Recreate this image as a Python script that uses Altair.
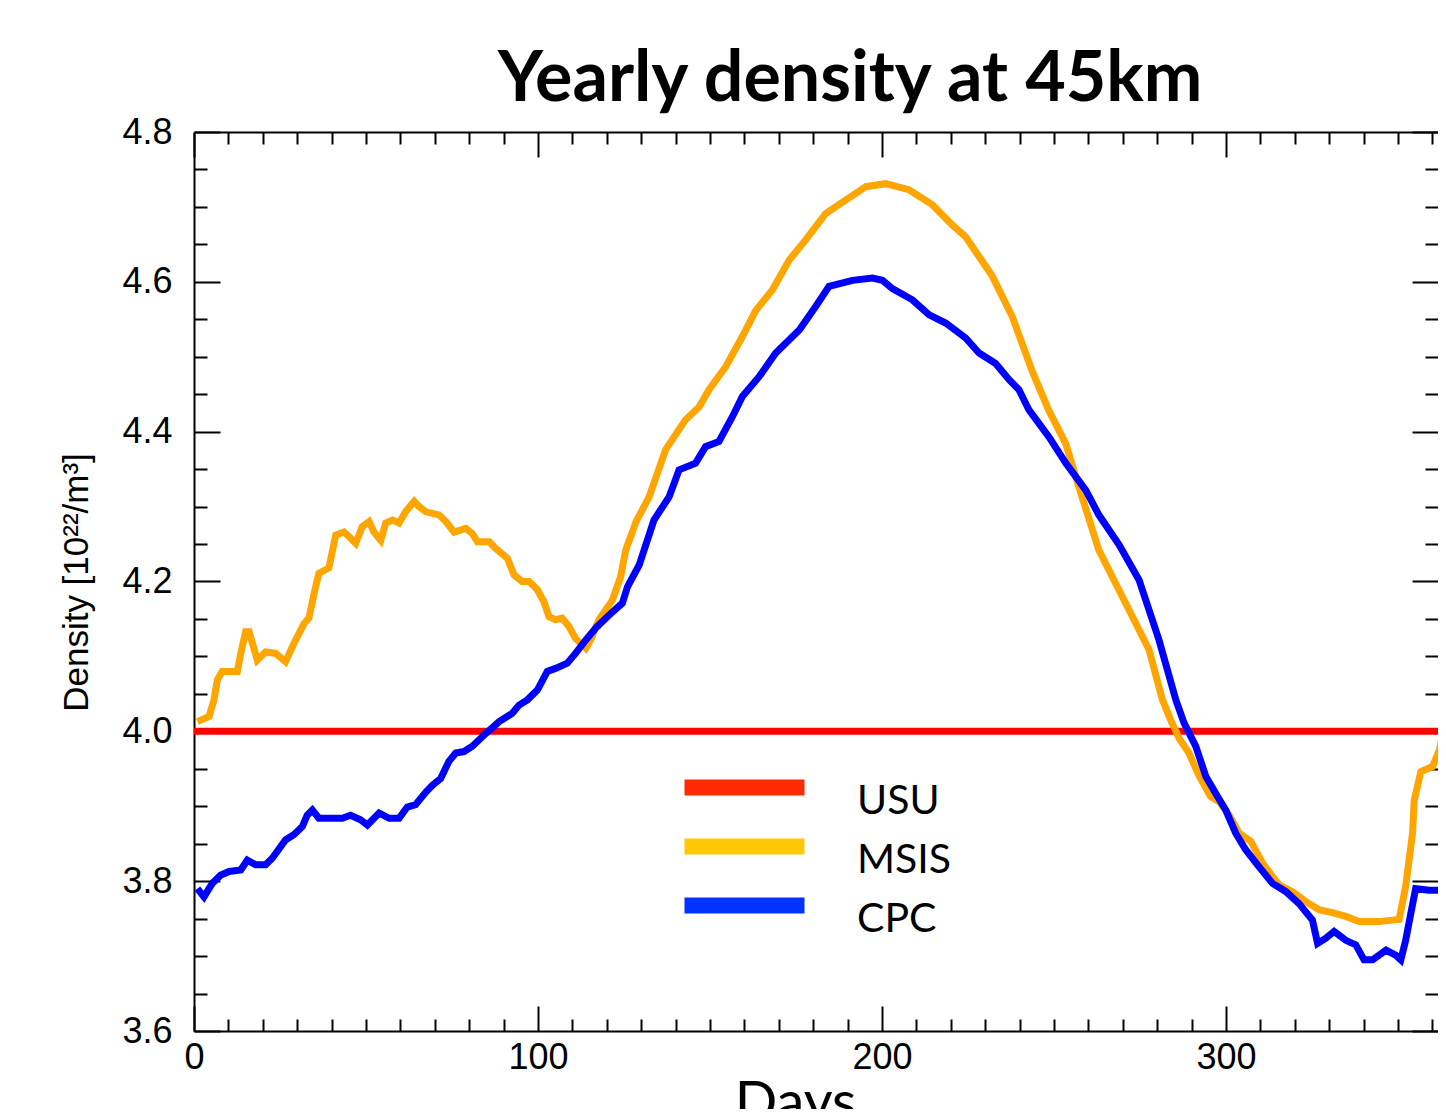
import altair as alt
import pandas as pd

# ---- data ----
series_names = ["USU", "MSIS", "CPC"]
line_colors = ["#FF0000", "#FFA500", "#0000FF"]
legend_colors = ["#FF2A00", "#FFC800", "#0033FF"]

usu_days = [0, 364]
usu_vals = [4.0, 4.0]

msis_days = [1, 4.4, 5.8, 6.8, 8.2, 12.6, 13.6, 15, 16, 18.4, 20.8, 23.7, 26.6, 29, 32, 33.4,
             34.9, 36.3, 39.2, 41.2, 43.6, 45, 47, 48.9, 50.9, 52.3, 54.3, 55.7, 57.7, 59.6,
             61.5, 64, 65.4, 67.4, 71.2, 73.2, 75.6, 79, 80.9, 82.4, 85.8, 87.7, 91.1, 93,
             95.4, 97.4, 99.8, 101.7, 103.2, 105.1, 107, 109, 110.9, 113.9, 115.3, 117.7,
             121.6, 124, 125.5, 128.5, 132.3, 137.1, 142.9, 146.8, 149.7, 154.6, 159.4, 163.3,
             168.1, 173, 177.8, 183.6, 189.4, 195.3, 201, 207.8, 214.6, 220.4, 224.3, 232,
             237.9, 243.7, 248.5, 253.4, 257.3, 263, 271.8, 277.6, 281.5, 283.9, 286.3, 289.2,
             292.2, 295.5, 298, 300.9, 303.8, 307.2, 310.6, 315.4, 319.3, 323.1, 327, 330.9,
             334.8, 338.7, 344.5, 350.3, 352.2, 354.2, 354.7, 356.6, 360, 362, 363.4]
msis_vals = [4.013, 4.02, 4.042, 4.069, 4.08, 4.08, 4.104, 4.133, 4.133, 4.095, 4.106, 4.104,
             4.093, 4.117, 4.144, 4.151, 4.184, 4.211, 4.218, 4.262, 4.266, 4.26, 4.251, 4.273,
             4.28, 4.266, 4.255, 4.278, 4.282, 4.278, 4.293, 4.307, 4.30, 4.293, 4.289, 4.28,
             4.266, 4.271, 4.264, 4.253, 4.253, 4.244, 4.231, 4.209, 4.20, 4.20, 4.189, 4.173,
             4.153, 4.149, 4.151, 4.14, 4.124, 4.111, 4.122, 4.149, 4.175, 4.206, 4.242, 4.28,
             4.313, 4.376, 4.416, 4.433, 4.456, 4.487, 4.527, 4.562, 4.589, 4.629, 4.656,
             4.691, 4.709, 4.727, 4.731, 4.723, 4.703, 4.676, 4.660, 4.608, 4.553, 4.480,
             4.428, 4.384, 4.325, 4.242, 4.162, 4.109, 4.042, 4.015, 3.991, 3.971, 3.940,
             3.913, 3.906, 3.888, 3.864, 3.853, 3.824, 3.795, 3.786, 3.773, 3.762, 3.758,
             3.753, 3.746, 3.746, 3.749, 3.793, 3.864, 3.908, 3.946, 3.953, 3.975, 4.004]

cpc_days = [1, 2.9, 5.3, 7.7, 10.2, 13.6, 15.5, 17.9, 20.8, 22.8, 26.6, 29, 31.5, 32.9, 34.4,
            36.3, 39.2, 43.1, 45.5, 48.4, 50.4, 53.8, 56.7, 59.6, 62, 64.4, 67.4, 69.3, 71.7,
            74.1, 76.1, 78.5, 80.9, 84.8, 88.7, 92.5, 94.5, 96.9, 99.8, 102.7, 105.1, 108.5,
            110.9, 113.9, 116.8, 120.6, 124.5, 126, 129.4, 133.7, 138.1, 141, 145.8, 148.7,
            152.6, 156.5, 159.4, 164.2, 169.1, 176, 180.7, 184.6, 191.4, 197.2, 200.1, 203,
            208.8, 213.7, 218.5, 224.3, 228.2, 233, 237, 239.8, 242.7, 248.5, 253.4, 259.2,
            263, 268.9, 274.7, 280.5, 285.4, 287.8, 291.2, 294.1, 297, 299.9, 302.8, 305.7,
            309.6, 313.5, 317.4, 321.2, 325.1, 326.6, 329, 331.4, 334.8, 337.7, 340.1, 342.6,
            346.5, 349.4, 350.8, 352.2, 353.7, 355.1, 359, 363.7]
cpc_vals = [3.790, 3.779, 3.797, 3.808, 3.813, 3.815, 3.828, 3.822, 3.822, 3.831, 3.855, 3.862,
            3.873, 3.888, 3.895, 3.884, 3.884, 3.884, 3.888, 3.882, 3.875, 3.891, 3.884, 3.884,
            3.899, 3.902, 3.919, 3.928, 3.937, 3.960, 3.971, 3.973, 3.980, 3.997, 4.013, 4.024,
            4.035, 4.042, 4.055, 4.080, 4.084, 4.091, 4.104, 4.122, 4.138, 4.155, 4.171, 4.193,
            4.222, 4.282, 4.313, 4.349, 4.358, 4.380, 4.387, 4.420, 4.447, 4.473, 4.505, 4.536,
            4.567, 4.594, 4.602, 4.605, 4.602, 4.591, 4.576, 4.556, 4.545, 4.525, 4.505, 4.491,
            4.469, 4.456, 4.429, 4.393, 4.358, 4.322, 4.289, 4.249, 4.202, 4.122, 4.042, 4.011,
            3.980, 3.940, 3.917, 3.895, 3.864, 3.842, 3.819, 3.797, 3.786, 3.770, 3.748, 3.717,
            3.724, 3.733, 3.721, 3.715, 3.695, 3.695, 3.708, 3.701, 3.695, 3.721, 3.757, 3.790,
            3.788, 3.788]

x_label_values = [0, 100, 200, 300]
x_tick_values = list(range(0, 361, 10))
y_label_values = [3.6, 3.8, 4.0, 4.2, 4.4, 4.6, 4.8]
y_tick_values = [round(3.6 + 0.05 * i, 2) for i in range(25)]

rows = []
for name, dd, vv in [("USU", usu_days, usu_vals), ("MSIS", msis_days, msis_vals), ("CPC", cpc_days, cpc_vals)]:
    for d, v in zip(dd, vv):
        rows.append({"series": name, "day": d, "value": v})
df = pd.DataFrame(rows)

W, H = 1244, 899
xscale = alt.Scale(domain=[0, 361.6], nice=False, zero=False)
yscale = alt.Scale(domain=[3.6, 4.8], nice=False, zero=False)

tick_common = dict(labels=False, domain=False, grid=False, title=None, tickWidth=2,
                   tickColor="black")
x_tick_size = {"condition": {"test": "datum.value % 100 === 0", "value": 25}, "value": 12}
y_tick_size = {"condition": {"test": "abs(datum.value*5 - round(datum.value*5)) < 0.001",
                             "value": 26}, "value": 13}

x_label_axis = alt.Axis(values=x_label_values, ticks=False, tickSize=0, labelFont="Liberation Sans",
                        labelFontSize=36, labelColor="black", labelPadding=9, labelFlush=False,
                        labelOverlap=False, domainColor="black", domainWidth=2, grid=False,
                        title="Days", titleFont="Lato", titleFontSize=56, titleFontWeight="normal",
                        titleColor="black", titleX=601, titleY=89, titleBaseline="alphabetic",
                        titleAlign="center")
y_label_axis = alt.Axis(values=y_label_values, format=".1f", ticks=False, tickSize=0,
                        labelFont="Liberation Sans", labelFontSize=36, labelColor="black",
                        labelPadding=22, labelFlush=False, labelOverlap=False, domainColor="black",
                        domainWidth=2, grid=False, title="Density [10²²/m³]",
                        titleFont="Liberation Sans", titleFontSize=35, titleFontWeight="normal",
                        titleColor="black", titleX=-107, titleY=450, titleAngle=270,
                        titleBaseline="alphabetic", titleAlign="center")

x_bottom_ticks = alt.Axis(orient="top", offset=-H, values=x_tick_values, tickSize=x_tick_size, **tick_common)
x_top_ticks = alt.Axis(orient="bottom", offset=-H, values=x_tick_values, tickSize=x_tick_size,
                       labels=False, grid=False, title=None, tickWidth=2, tickColor="black",
                       domain=True, domainColor="black", domainWidth=2)
y_left_ticks = alt.Axis(orient="right", offset=-W, values=y_tick_values, tickSize=y_tick_size, **tick_common)
y_right_ticks = alt.Axis(orient="left", offset=-W, values=y_tick_values, tickSize=y_tick_size, **tick_common)

# long flat bar as legend symbol (unit path scaled by sqrt(size)/2 = 10): 120 px long,
# raised 14 px above the label's centre line as in the reference
legend = alt.Legend(title=None, orient="none", legendX=530, legendY=649,
                    symbolType="M-6,-1.4H6", symbolSize=400, symbolStrokeWidth=16,
                    labelFont="Lato", labelFontSize=41, labelColor="black", labelOffset=92,
                    labelBaseline="middle", rowPadding=-8, padding=0)

base = alt.Chart(df)

legend_layer = base.transform_filter("false").mark_line().encode(
    x=alt.X("day:Q", scale=xscale, axis=x_label_axis),
    y=alt.Y("value:Q", scale=yscale, axis=y_label_axis),
    color=alt.Color("series:N", scale=alt.Scale(domain=series_names, range=legend_colors),
                    legend=legend),
)

stroke_enc = alt.Stroke("series:N", scale=alt.Scale(domain=series_names, range=line_colors),
                        legend=None)

usu_layer = base.transform_filter("datum.series === 'USU'").mark_line(strokeWidth=7, clip=True).encode(
    x=alt.X("day:Q", scale=xscale, axis=x_bottom_ticks),
    y=alt.Y("value:Q", scale=yscale, axis=y_left_ticks),
    stroke=stroke_enc,
)
msis_layer = base.transform_filter("datum.series === 'MSIS'").mark_line(strokeWidth=7, clip=True).encode(
    x=alt.X("day:Q", scale=xscale, axis=x_top_ticks),
    y=alt.Y("value:Q", scale=yscale, axis=y_right_ticks),
    stroke=stroke_enc,
)
cpc_layer = base.transform_filter("datum.series === 'CPC'").mark_line(strokeWidth=7, clip=True).encode(
    x=alt.X("day:Q", scale=xscale, axis=None),
    y=alt.Y("value:Q", scale=yscale, axis=None),
    stroke=stroke_enc,
)

chart = alt.layer(legend_layer, usu_layer, msis_layer, cpc_layer).resolve_axis(
    x="independent", y="independent"
).properties(
    width=W, height=H,
    title=alt.Title("Yearly density at 45km", font="Lato", fontSize=70, fontWeight="bold",
                    color="black", anchor="middle", frame="group", dx=34, dy=86, offset=29,
                    baseline="alphabetic"),
    autosize=alt.AutoSizeParams(type="none"),
    padding={"left": 186, "top": 124, "right": 0, "bottom": 78},
).configure_view(stroke=None).configure(background="white")

chart.save("out.html", embed_options={"renderer": "svg", "actions": False})
